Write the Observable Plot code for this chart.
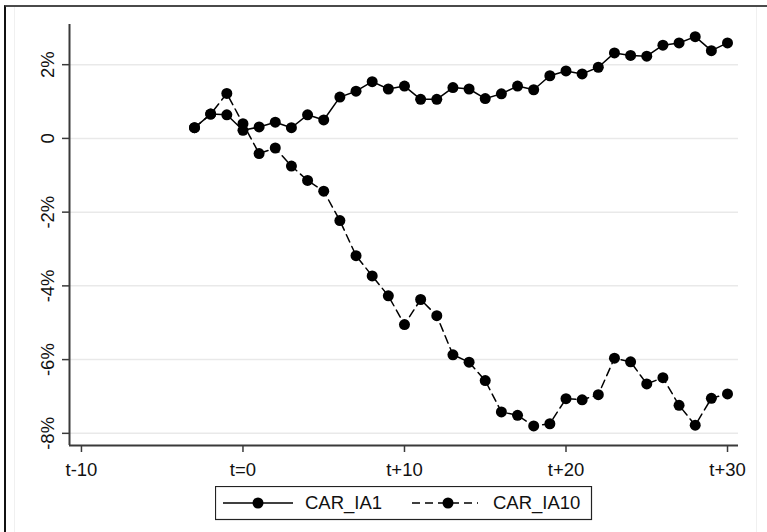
<!DOCTYPE html>
<html>
<head>
<meta charset="utf-8">
<script src="https://cdn.jsdelivr.net/npm/d3@7"></script>
<script src="https://cdn.jsdelivr.net/npm/@observablehq/plot@0.6"></script>
<style>
  html, body { margin: 0; padding: 0; background: #fff; }
  body { width: 767px; height: 532px; position: relative; overflow: hidden; font-family: "Liberation Sans", Arial, sans-serif; }
  #frame { position: absolute; left: 4px; top: 5px; width: 800px; height: 600px; border-top: 2px solid #4a4a4a; border-left: 2px solid #111; box-sizing: border-box; }
  #inner { position: absolute; left: 14px; top: 7px; width: 743px; height: 600px; border-left: 1px solid #f0f0f0; border-right: 1px solid #f0f0f0; box-sizing: border-box; }
  #chart { position: absolute; left: 0; top: 0; }
  #legend { position: absolute; left: 215px; top: 486px; }
</style>
</head>
<body>
<div id="inner"></div>
<div id="frame"></div>
<div id="chart"></div>
<div id="legend"></div>
<script>
// Event time (days relative to t=0)
const days = [-3,-2,-1,0,1,2,3,4,5,6,7,8,9,10,11,12,13,14,15,16,17,18,19,20,21,22,23,24,25,26,27,28,29,30];
// Cumulative abnormal returns, in percent
const carIA1 = [0.29,0.66,0.64,0.22,0.31,0.44,0.29,0.64,0.50,1.12,1.28,1.54,1.34,1.42,1.06,1.06,1.38,1.34,1.08,1.21,1.42,1.32,1.70,1.83,1.75,1.93,2.32,2.25,2.23,2.53,2.59,2.76,2.38,2.59];
const carIA10 = [0.29,0.66,1.22,0.40,-0.41,-0.26,-0.75,-1.14,-1.43,-2.23,-3.18,-3.73,-4.27,-5.05,-4.37,-4.81,-5.87,-6.07,-6.57,-7.42,-7.51,-7.80,-7.74,-7.06,-7.09,-6.95,-5.96,-6.06,-6.66,-6.49,-7.24,-7.78,-7.05,-6.93];
const seriesNames = ["CAR_IA1", "CAR_IA10"];
// Tick values and labels
const xTicks = [-10, 0, 10, 20, 30];
const xTickLabels = ["t-10", "t=0", "t+10", "t+20", "t+30"];
const yTicks = [2, 0, -2, -4, -6, -8];
const yTickLabels = ["2%", "0", "-2%", "-4%", "-6%", "-8%"];

const d1 = days.map((t, i) => ({t, v: carIA1[i]}));
const d10 = days.map((t, i) => ({t, v: carIA10[i]}));

const xDomain = [-10.74, 30.68];
const yDomain = [-8.33, 3.09];
const axisColor = "#3a3a3a";
const fontSize = 18.5;

const chart = Plot.plot({
  width: 767,
  height: 480,
  marginLeft: 69,
  marginRight: 29,
  marginTop: 24,
  marginBottom: 35,
  style: {fontFamily: '"Liberation Sans", Arial, sans-serif', fontSize: fontSize + "px", color: "#111", background: "transparent", overflow: "visible"},
  x: {domain: xDomain, axis: null, label: null},
  y: {domain: yDomain, axis: null, label: null},
  marks: [
    Plot.ruleY(yTicks, {stroke: "#e9e9e9", strokeWidth: 1.5}),
    Plot.ruleY([yDomain[0]], {stroke: axisColor, strokeWidth: 2}),
    Plot.ruleX([xDomain[0]], {stroke: axisColor, strokeWidth: 2}),
    Plot.axisX({
      ticks: xTicks,
      tickFormat: d => xTickLabels[xTicks.indexOf(d)],
      tickSize: 7,
      tickPadding: 10,
      stroke: axisColor,
      strokeWidth: 1.5,
      fontSize: fontSize,
      fill: "#111",
      label: null
    }),
    Plot.axisY({
      ticks: yTicks,
      tickFormat: () => "",
      tickSize: 7,
      stroke: axisColor,
      strokeWidth: 1.5,
      label: null
    }),
    Plot.text(yTicks, {
      x: xDomain[0],
      y: d => d,
      text: d => yTickLabels[yTicks.indexOf(d)],
      rotate: -90,
      dx: -21,
      textAnchor: "middle",
      lineAnchor: "middle",
      fontSize: fontSize,
      fill: "#111"
    }),
    Plot.line(d10, {x: "t", y: "v", stroke: "#000", strokeWidth: 1.5, strokeDasharray: "8,5"}),
    Plot.line(d1, {x: "t", y: "v", stroke: "#000", strokeWidth: 1.5}),
    Plot.dot(d10, {x: "t", y: "v", r: 5.5, fill: "#000", stroke: "none"}),
    Plot.dot(d1, {x: "t", y: "v", r: 5.5, fill: "#000", stroke: "none"})
  ]
});
document.getElementById("chart").appendChild(chart);

// Legend
const lg = d3.select("#legend").append("svg")
  .attr("width", 378).attr("height", 35)
  .style("font-family", '"Liberation Sans", Arial, sans-serif')
  .style("font-size", fontSize + "px");
lg.append("rect").attr("x", 0.5).attr("y", 0.5).attr("width", 376).attr("height", 33)
  .attr("fill", "#fff").attr("stroke", "#222").attr("stroke-width", 1.2);
const items = [
  {name: seriesNames[0], x0: 8, x1: 78, cx: 43, tx: 90, dash: null},
  {name: seriesNames[1], x0: 197, x1: 263, cx: 233, tx: 278, dash: "8,5"}
];
items.forEach(it => {
  lg.append("line").attr("x1", it.x0).attr("x2", it.x1).attr("y1", 17).attr("y2", 17)
    .attr("stroke", "#000").attr("stroke-width", 1.5).attr("stroke-dasharray", it.dash);
  lg.append("circle").attr("cx", it.cx).attr("cy", 17).attr("r", 5.5).attr("fill", "#000");
  lg.append("text").attr("x", it.tx).attr("y", 17).attr("dy", "0.35em").attr("fill", "#111").text(it.name);
});
</script>
</body>
</html>
